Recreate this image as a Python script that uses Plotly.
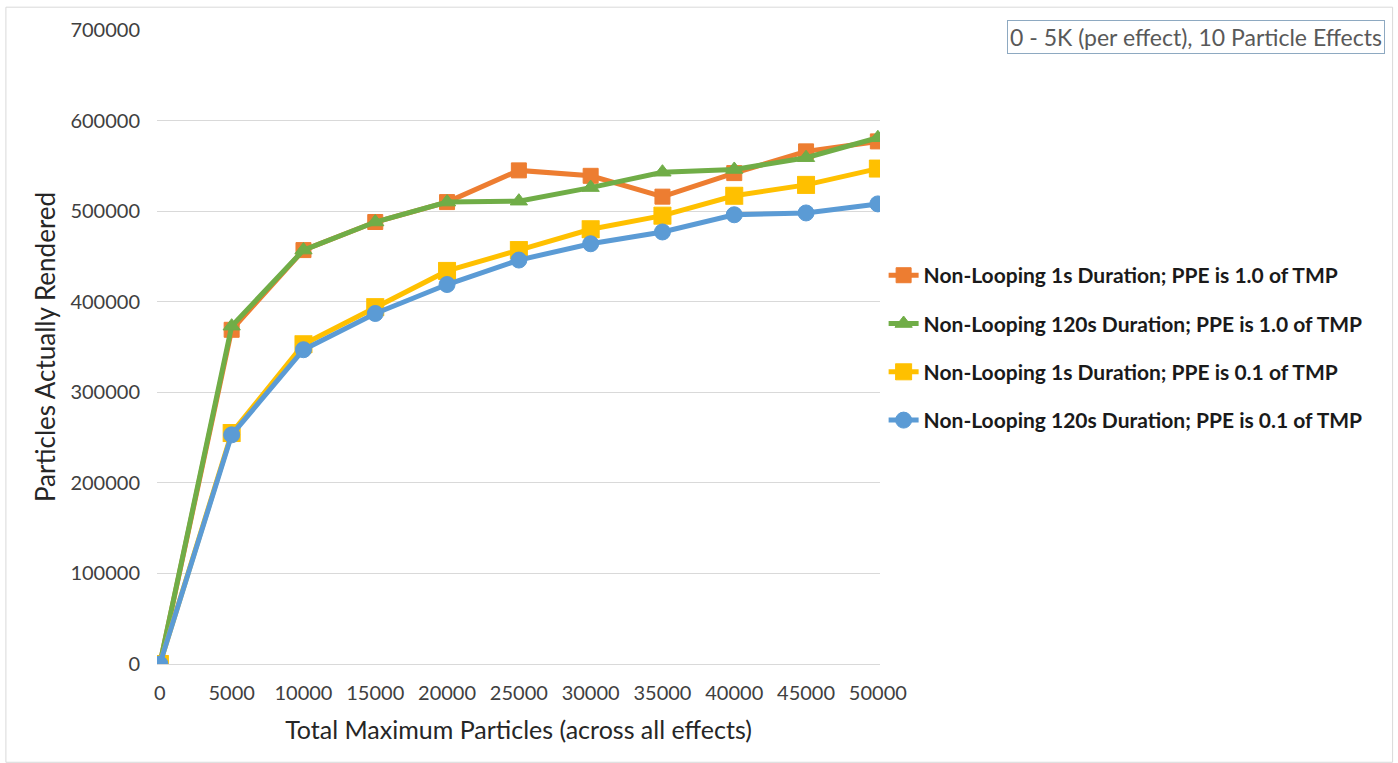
import plotly.graph_objects as go

# total maximum particles (x axis)
total_max = [0, 5000, 10000, 15000, 20000, 25000, 30000, 35000, 40000, 45000, 50000]

# particles actually rendered per series
nl_1s_10 = [0, 369000, 457000, 488000, 510000, 545000, 539000, 516000, 542000, 566000, 577000]
nl_120s_10 = [0, 373000, 457000, 488000, 510000, 511000, 526000, 543000, 546000, 559000, 581000]
nl_1s_01 = [0, 255000, 353000, 394000, 434000, 457000, 480000, 495000, 517000, 529000, 547000]
nl_120s_01 = [0, 253000, 347000, 387000, 419000, 446000, 464000, 477000, 496000, 498000, 508000]

series_names = [
    'Non-Looping 1s Duration; PPE is 1.0 of TMP',
    'Non-Looping 120s Duration; PPE is 1.0 of TMP',
    'Non-Looping 1s Duration; PPE is 0.1 of TMP',
    'Non-Looping 120s Duration; PPE is 0.1 of TMP',
]

FONT = 'Lato, Open Sans, sans-serif'

fig = go.Figure()

styles = [
    (nl_1s_10, '#ED7D31', 'square', 15),
    (nl_120s_10, '#70AD47', 'triangle-up', 15),
    (nl_1s_01, '#FFC000', 'square-x', 17),
    (nl_120s_01, '#5B9BD5', 'circle', 16),
]

for i, (vals, color, sym, size) in enumerate(styles):
    fig.add_trace(go.Scatter(
        x=total_max,
        y=vals,
        mode='lines+markers',
        name=series_names[i],
        legendgroup=f'g{i}',
        line=dict(color=color, width=5),
        marker=dict(symbol=sym, size=size, color=color,
                    line=dict(color=color, width=1)),
    ))

fig.add_annotation(
    xref='paper', yref='paper',
    x=1.698, y=0.989, xanchor='right', yanchor='middle',
    text='0 - 5K (per effect), 10 Particle Effects',
    showarrow=False,
    font=dict(family=FONT, size=23, color='#595959'),
    bordercolor='#8EA9C1', borderwidth=1, borderpad=2,
    bgcolor='white',
)

fig.update_layout(
    width=1398, height=763,
    margin=dict(l=157, r=518, t=30, b=99),
    paper_bgcolor='white',
    plot_bgcolor='white',
    font=dict(family=FONT, size=20, color='#404040'),
    showlegend=True,
    legend=dict(
        x=1.005, y=0.645, xanchor='left', yanchor='top',
        font=dict(family=FONT, size=21, color='#1a1a1a', weight='bold'),
        traceorder='grouped', tracegroupgap=18,
        itemwidth=30,
    ),
    xaxis=dict(
        range=[-200, 50150],
        tickvals=total_max,
        ticktext=[str(v) for v in total_max],
        showgrid=False, zeroline=False,
        showline=False,
        ticks='outside', ticklen=11, tickcolor='white',
        title=dict(text='Total Maximum Particles (across all effects)',
                   font=dict(size=25, color='#262626'), standoff=18),
    ),
    yaxis=dict(
        range=[0, 700000],
        dtick=100000,
        tickformat='d',
        showgrid=True, gridcolor='#D9D9D9', gridwidth=1,
        zeroline=True, zerolinecolor='#D9D9D9', zerolinewidth=1,
        showline=False,
        ticks='outside', ticklen=12, tickcolor='white',
        title=dict(text='Particles Actually Rendered',
                   font=dict(size=26, color='#262626'), standoff=7),
    ),
    shapes=[dict(type='rect', xref='paper', yref='paper',
                 x0=-0.209, x1=1.709, y0=-0.155, y1=1.036,
                 line=dict(color='#D9D9D9', width=1))],
)

# drop the default page margin so the figure sits at the window's corner
fig.write_html('out.html', config={'displayModeBar': False},
               post_script="document.body.style.margin='0';")
